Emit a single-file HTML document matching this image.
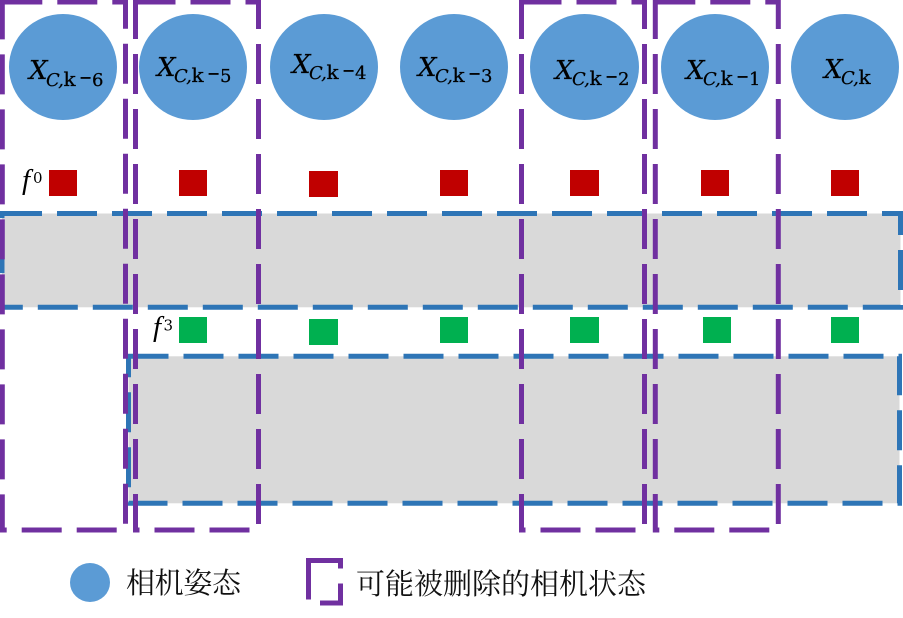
<!DOCTYPE html>
<html lang="zh">
<head>
<meta charset="utf-8">
<title>相机状态示意图</title>
<style>
html,body{margin:0;padding:0;background:#fff;}
svg{display:block;}
.pr{fill:none;stroke:#7030a0;stroke-width:5;stroke-dasharray:40 15;}
.br{fill:#d9d9d9;stroke:#2e75b6;stroke-width:5;stroke-dasharray:40 15;}
.cam{fill:#5b9bd5;}
.red{fill:#c00000;}
.grn{fill:#00b050;}
.X{font:italic 26px "DejaVu Serif",serif;fill:#000;stroke:#000;stroke-width:.25;}
.C{font:italic 18px "DejaVu Serif",serif;fill:#000;stroke:#000;stroke-width:.2;letter-spacing:-1px;}
.k{font:20px "DejaVu Serif",serif;fill:#000;stroke:#000;stroke-width:.25;}
.m{font:bold 16px "DejaVu Serif",serif;fill:#000;}
.d{font:18px "DejaVu Serif",serif;fill:#000;stroke:#000;stroke-width:.25;}
.f{font:italic 29px "Liberation Serif",serif;fill:#000;}
.s{font:15px "DejaVu Serif",serif;fill:#000;}
.lg{font:29px "Liberation Serif","Noto Serif CJK SC",serif;fill:#111;}
</style>
</head>
<body>
<svg width="903" height="618" viewBox="0 0 903 618" xmlns="http://www.w3.org/2000/svg">
<rect x="0" y="0" width="903" height="618" fill="#fff"/>

<g>
<rect class="br" x="2" y="213.5" width="898.5" height="93.8"/>
<rect class="br" x="128.5" y="356.3" width="771" height="147"/>
</g>

<g>
<ellipse class="cam" cx="63" cy="67" rx="54" ry="53"/>
<ellipse class="cam" cx="193" cy="67" rx="54" ry="53"/>
<ellipse class="cam" cx="324" cy="67" rx="54" ry="53"/>
<ellipse class="cam" cx="454" cy="67" rx="54" ry="53"/>
<ellipse class="cam" cx="584.5" cy="67" rx="54.5" ry="53"/>
<ellipse class="cam" cx="715" cy="67" rx="54" ry="53"/>
<ellipse class="cam" cx="845" cy="67" rx="54" ry="53"/>
</g>

<g transform="translate(28,79)"><text class="X" x="1">X</text><text class="C" x="18" y="7">C,</text><text class="k" x="35.5" y="7">k</text><text class="m" x="51" y="4">−</text><text class="d" x="64" y="7">6</text></g>
<g transform="translate(156,76)"><text class="X" x="1">X</text><text class="C" x="18" y="6">C,</text><text class="k" x="35.5" y="6">k</text><text class="m" x="51" y="3">−</text><text class="d" x="64" y="6">5</text></g>
<g transform="translate(291,73)"><text class="X" x="1">X</text><text class="C" x="18" y="6">C,</text><text class="k" x="35.5" y="6">k</text><text class="m" x="51" y="3">−</text><text class="d" x="64" y="6">4</text></g>
<g transform="translate(417,76)"><text class="X" x="1">X</text><text class="C" x="18" y="6">C,</text><text class="k" x="35.5" y="6">k</text><text class="m" x="51" y="3">−</text><text class="d" x="64" y="6">3</text></g>
<g transform="translate(554,79)"><text class="X" x="1">X</text><text class="C" x="18" y="6">C,</text><text class="k" x="35.5" y="6">k</text><text class="m" x="51" y="3">−</text><text class="d" x="64" y="6">2</text></g>
<g transform="translate(685,79)"><text class="X" x="1">X</text><text class="C" x="18" y="6">C,</text><text class="k" x="35.5" y="6">k</text><text class="m" x="51" y="3">−</text><text class="d" x="64" y="6">1</text></g>
<g transform="translate(823,78)"><text class="X" x="1">X</text><text class="C" x="18" y="6">C,</text><text class="k" x="35.5" y="6">k</text></g>

<g>
<rect class="red" x="49" y="170" width="28" height="26"/>
<rect class="red" x="179" y="170" width="28" height="26"/>
<rect class="red" x="309" y="171" width="29" height="26"/>
<rect class="red" x="440" y="170" width="28" height="26"/>
<rect class="red" x="570" y="170" width="29" height="26"/>
<rect class="red" x="701" y="170" width="28" height="26"/>
<rect class="red" x="831" y="170" width="28" height="26"/>
</g>
<g>
<rect class="grn" x="179" y="317" width="28" height="26"/>
<rect class="grn" x="309" y="319" width="29" height="26"/>
<rect class="grn" x="440" y="317" width="28" height="26"/>
<rect class="grn" x="570" y="317" width="29" height="26"/>
<rect class="grn" x="703" y="317" width="28" height="26"/>
<rect class="grn" x="831" y="317" width="28" height="26"/>
</g>

<g><text class="f" x="22" y="189">f</text><text class="s" x="33" y="183">0</text></g>
<g><text class="f" x="153" y="336">f</text><text class="s" x="163.5" y="330.5">3</text></g>

<g>
<rect class="pr" x="2.3" y="2" width="123.2" height="528"/>
<rect class="pr" x="135.5" y="2" width="123" height="528"/>
<rect class="pr" x="521.5" y="2" width="123" height="528"/>
<rect class="pr" x="655.3" y="2" width="123" height="528"/>
</g>

<g>
<ellipse class="cam" cx="90" cy="582.5" rx="20" ry="19.5"/>
<text class="lg" x="126" y="593" textLength="115" lengthAdjust="spacing">相机姿态</text>
<rect class="pr" x="308.5" y="560.5" width="32" height="42.5"/>
<text class="lg" x="356" y="594" textLength="290" lengthAdjust="spacing">可能被删除的相机状态</text>
</g>
</svg>
</body>
</html>
